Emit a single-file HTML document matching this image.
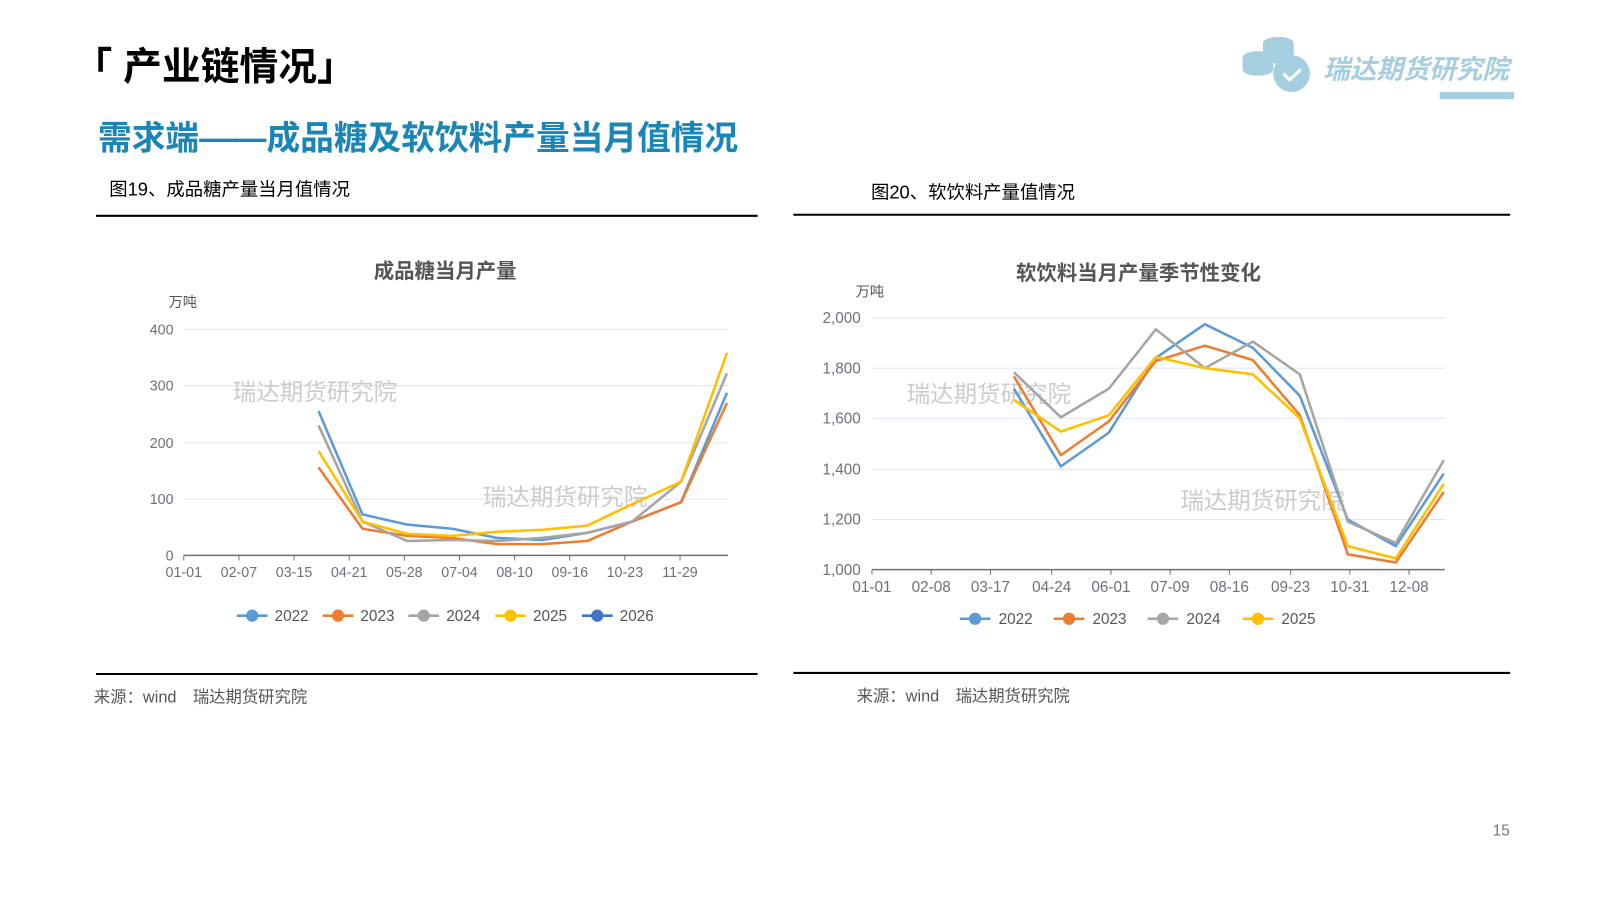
<!DOCTYPE html>
<html><head><meta charset="utf-8"><style>
body{margin:0;width:1600px;height:900px;background:#fff;overflow:hidden;font-family:"Liberation Sans","Noto Sans CJK SC",sans-serif}
</style></head><body>
<svg width="1600" height="900" viewBox="0 0 1567 880" preserveAspectRatio="none" xmlns="http://www.w3.org/2000/svg" font-family="Liberation Sans, Noto Sans CJK SC, sans-serif" style="display:block">
<text x="72" y="78" font-size="38" font-weight="bold" fill="#000">「 产业链情况」</text>
<text x="96" y="146" font-size="33" font-weight="bold" fill="#1a86b8">需求端——成品糖及软饮料产量当月值情况</text>
<text x="107" y="191" font-size="18" fill="#000">图19、成品糖产量当月值情况</text>
<text x="853" y="194" font-size="18" fill="#000">图20、软饮料产量值情况</text>
<g fill="#a5cfe0">
<ellipse cx="1252" cy="42" rx="15" ry="6"/><rect x="1237" y="42" width="30" height="14"/><ellipse cx="1252" cy="56" rx="15" ry="6"/>
<ellipse cx="1232" cy="56" rx="15" ry="6"/><rect x="1217" y="56" width="30" height="12"/><ellipse cx="1232" cy="68" rx="15" ry="6"/>
<circle cx="1265" cy="72" r="18"/>
<rect x="1410" y="90" width="73" height="7"/>
</g>
<path d="M1257 72 l6 6 l11 -10" stroke="#fff" stroke-width="3" fill="none"/>
<text x="1296" y="77" font-size="26" font-weight="bold" font-style="italic" fill="#a5cfe0">瑞达期货研究院</text>
<g stroke="#000" stroke-width="2">
<line x1="94" y1="211" x2="742" y2="211"/><line x1="777" y1="210" x2="1479" y2="210"/>
<line x1="94" y1="659" x2="742" y2="659"/><line x1="777" y1="658" x2="1479" y2="658"/>
</g>
<text x="92" y="687" font-size="16" fill="#555">来源：wind　瑞达期货研究院</text>
<text x="839" y="686" font-size="16" fill="#555">来源：wind　瑞达期货研究院</text>
<text x="1462" y="817" font-size="15" fill="#777">15</text>

<text x="436" y="272" font-size="20" font-weight="bold" fill="#555" text-anchor="middle">成品糖当月产量</text>
<text x="165" y="300" font-size="14" fill="#555">万吨</text>
<g stroke="#e0e6f1" stroke-width="1">
<line x1="180" y1="322" x2="713" y2="322"/><line x1="180" y1="377" x2="713" y2="377"/><line x1="180" y1="433" x2="713" y2="433"/><line x1="180" y1="488" x2="713" y2="488"/>
</g>
<line x1="180" y1="543" x2="713" y2="543" stroke="#6e7079" stroke-width="1.5"/>
<g stroke="#6e7079"><line x1="180" y1="543" x2="180" y2="548"/><line x1="234" y1="543" x2="234" y2="548"/><line x1="288" y1="543" x2="288" y2="548"/><line x1="342" y1="543" x2="342" y2="548"/><line x1="396" y1="543" x2="396" y2="548"/><line x1="450" y1="543" x2="450" y2="548"/><line x1="504" y1="543" x2="504" y2="548"/><line x1="558" y1="543" x2="558" y2="548"/><line x1="612" y1="543" x2="612" y2="548"/><line x1="666" y1="543" x2="666" y2="548"/></g>
<g font-size="14" fill="#6e7079" text-anchor="end">
<text x="170" y="327">400</text><text x="170" y="382">300</text><text x="170" y="438">200</text><text x="170" y="493">100</text><text x="170" y="548">0</text>
</g>
<g font-size="14" fill="#6e7079" text-anchor="middle">
<text x="180" y="564">01-01</text><text x="234" y="564">02-07</text><text x="288" y="564">03-15</text><text x="342" y="564">04-21</text><text x="396" y="564">05-28</text><text x="450" y="564">07-04</text><text x="504" y="564">08-10</text><text x="558" y="564">09-16</text><text x="612" y="564">10-23</text><text x="666" y="564">11-29</text>
</g>
<text x="228" y="391" font-size="23" fill="#ccc">瑞达期货研究院</text>
<text x="473" y="494" font-size="23" fill="#ccc">瑞达期货研究院</text>
<g fill="none" stroke-width="2.5" stroke-linejoin="round">
<polyline stroke="#5b9bd5" points="312,402 355,503 399,513 443,517 487,526 531,528 575,521 619,510 667,491 712,384"/>
<polyline stroke="#ed7d31" points="312,457 355,517 399,524 443,526 487,532 531,532 575,529 619,510 667,491 712,394"/>
<polyline stroke="#a5a5a5" points="312,416 355,510 399,529 443,528 487,529 531,526 575,521 619,510 667,471 712,365"/>
<polyline stroke="#ffc000" points="312,441 355,510 399,522 443,524 487,520 531,518 575,514 619,493 667,471 712,345"/>
</g>
<g font-size="15" fill="#555">
<line x1="232" y1="602" x2="262" y2="602" stroke="#5b9bd5" stroke-width="2.5"/><circle cx="247" cy="602" r="6" fill="#5b9bd5"/><text x="269" y="607">2022</text>
<line x1="316" y1="602" x2="346" y2="602" stroke="#ed7d31" stroke-width="2.5"/><circle cx="331" cy="602" r="6" fill="#ed7d31"/><text x="353" y="607">2023</text>
<line x1="400" y1="602" x2="430" y2="602" stroke="#a5a5a5" stroke-width="2.5"/><circle cx="415" cy="602" r="6" fill="#a5a5a5"/><text x="437" y="607">2024</text>
<line x1="485" y1="602" x2="515" y2="602" stroke="#ffc000" stroke-width="2.5"/><circle cx="500" cy="602" r="6" fill="#ffc000"/><text x="522" y="607">2025</text>
<line x1="570" y1="602" x2="600" y2="602" stroke="#4472c4" stroke-width="2.5"/><circle cx="585" cy="602" r="6" fill="#4472c4"/><text x="607" y="607">2026</text>
</g>

<text x="1115" y="274" font-size="20" font-weight="bold" fill="#555" text-anchor="middle">软饮料当月产量季节性变化</text>
<text x="838" y="290" font-size="14" fill="#555">万吨</text>
<g stroke="#e0e6f1" stroke-width="1">
<line x1="854" y1="311" x2="1415" y2="311"/><line x1="854" y1="360" x2="1415" y2="360"/><line x1="854" y1="409" x2="1415" y2="409"/><line x1="854" y1="459" x2="1415" y2="459"/><line x1="854" y1="508" x2="1415" y2="508"/>
</g>
<line x1="854" y1="557" x2="1415" y2="557" stroke="#6e7079" stroke-width="1.5"/>
<g stroke="#6e7079"><line x1="854" y1="557" x2="854" y2="562"/><line x1="912" y1="557" x2="912" y2="562"/><line x1="970" y1="557" x2="970" y2="562"/><line x1="1030" y1="557" x2="1030" y2="562"/><line x1="1088" y1="557" x2="1088" y2="562"/><line x1="1146" y1="557" x2="1146" y2="562"/><line x1="1204" y1="557" x2="1204" y2="562"/><line x1="1264" y1="557" x2="1264" y2="562"/><line x1="1322" y1="557" x2="1322" y2="562"/><line x1="1380" y1="557" x2="1380" y2="562"/></g>
<g font-size="15" fill="#6e7079" text-anchor="end">
<text x="843" y="316">2,000</text><text x="843" y="365">1,800</text><text x="843" y="414">1,600</text><text x="843" y="464">1,400</text><text x="843" y="513">1,200</text><text x="843" y="562">1,000</text>
</g>
<g font-size="15" fill="#6e7079" text-anchor="middle">
<text x="854" y="579">01-01</text><text x="912" y="579">02-08</text><text x="970" y="579">03-17</text><text x="1030" y="579">04-24</text><text x="1088" y="579">06-01</text><text x="1146" y="579">07-09</text><text x="1204" y="579">08-16</text><text x="1264" y="579">09-23</text><text x="1322" y="579">10-31</text><text x="1380" y="579">12-08</text>
</g>
<text x="888" y="393" font-size="23" fill="#ccc">瑞达期货研究院</text>
<text x="1156" y="497" font-size="23" fill="#ccc">瑞达期货研究院</text>
<g fill="none" stroke-width="2.5" stroke-linejoin="round">
<polyline stroke="#5b9bd5" points="993,380 1039,456 1086,423 1132,350 1180,317 1227,340 1273,387 1320,508 1367,534 1414,463"/>
<polyline stroke="#ed7d31" points="993,368 1039,445 1086,412 1132,353 1180,338 1227,352 1273,406 1320,542 1367,550 1414,481"/>
<polyline stroke="#a5a5a5" points="993,364 1039,408 1086,380 1132,322 1180,360 1227,334 1273,366 1320,510 1367,531 1414,450"/>
<polyline stroke="#ffc000" points="993,391 1039,422 1086,406 1132,349 1180,360 1227,366 1273,409 1320,534 1367,546 1414,473"/>
</g>
<g font-size="15" fill="#555">
<line x1="940" y1="605" x2="970" y2="605" stroke="#5b9bd5" stroke-width="2.5"/><circle cx="955" cy="605" r="6" fill="#5b9bd5"/><text x="978" y="610">2022</text>
<line x1="1032" y1="605" x2="1062" y2="605" stroke="#ed7d31" stroke-width="2.5"/><circle cx="1047" cy="605" r="6" fill="#ed7d31"/><text x="1070" y="610">2023</text>
<line x1="1124" y1="605" x2="1154" y2="605" stroke="#a5a5a5" stroke-width="2.5"/><circle cx="1139" cy="605" r="6" fill="#a5a5a5"/><text x="1162" y="610">2024</text>
<line x1="1217" y1="605" x2="1247" y2="605" stroke="#ffc000" stroke-width="2.5"/><circle cx="1232" cy="605" r="6" fill="#ffc000"/><text x="1255" y="610">2025</text>
</g>
</svg>
</body></html>
